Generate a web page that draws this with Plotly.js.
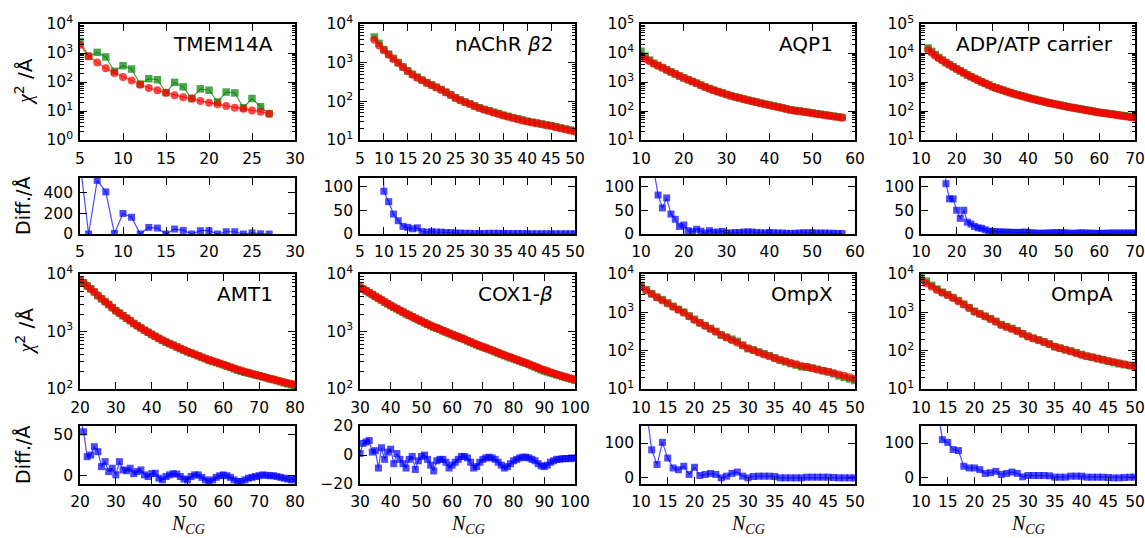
<!DOCTYPE html>
<html>
<head>
<meta charset="utf-8">
<script src="https://cdn.plot.ly/plotly-3.0.1.min.js"></script>
<style>html,body{margin:0;padding:0;background:#fff;}#chart{width:1145px;height:538px;}</style>
</head>
<body>
<div id="chart"></div>
<script>
// ---------------- DATA ----------------
const panelNames = ['TMEM14A', 'nAChR <i>β</i>2', 'AQP1', 'ADP/ATP carrier', 'AMT1', 'COX1-<i>β</i>', 'OmpX', 'OmpA'];

const tmemN = [5,6,7,8,9,10,11,12,13,14,15,16,17,18,19,20,21,22,23,24,25,26,27];
const tmemGreen = [2500,770,1050,730,233,365,280,85,130,120,43,97,68,27,58,52,20.5,45,42,13,27,14,8.1];
const tmemRed = [1940,770,475,300,205,150,112,81,62,52,43,35,30,27,22,19.4,17,15,13,12,10.5,9.5,8.1];
const tmemDiff = [700,0,522,410,5,200,163,0,64,58,0,48,35,0,32,32,0,22,22,0,10,2,0];

const nachrN = [8,9,10,11,12,13,14,15,16,17,18,19,20,21,22,23,24,25,26,27,28,29,30,31,32,33,34,35,36,37,38,39,40,41,42,43,44,45,46,47,48,49,50];
const nachrGreen = [4600,3170,2190,1668,1292,1008,776,614,501,423,355,304,267,232,202,173,148,124,109,96.5,86.5,76,68,62,57.5,52.5,48.5,44,41,38,35.5,33,30.5,29,27.5,26,24.5,23.5,22,20.5,19.3,18.1,17.1];
const nachrRed = [3900,2800,2100,1600,1250,980,760,600,490,410,350,300,262,228,198,170,145,122,107,95,85,75,67,61,56,51,47,43,40,37,34.5,32,30,28.5,27,25.5,24,23,21.5,20,18.8,17.6,16.6];
const nachrDiff = [700,370,90,68,42,28,16,14,11,13,5,4,5,4,4,3,3,2,2,1.5,1.5,1,1,1,1.5,1.5,1.5,1,1,1,1,1,0.5,0.5,0.5,0.5,0.5,0.5,0.5,0.5,0.5,0.5,0.5];

const aqpN = [10,11,12,13,14,15,16,17,18,19,20,21,22,23,24,25,26,27,28,29,30,31,32,33,34,35,36,37,38,39,40,41,42,43,44,45,46,47,48,49,50,51,52,53,54,55,56,57];
const aqpGreen = [11500,7800,5700,4435,3732,3155,2676,2242,1901,1616,1399,1207,1045,910,786,672,597,523.5,469,420.5,372,337,308,281,259,237.5,219,202,186.5,172,161,149.5,139,129,118.5,109,104.5,100,95.5,90.5,85.5,81,77,73.5,69.5,66.5,63,60];
const aqpRed = [7700,6300,5200,4300,3650,3100,2600,2200,1870,1600,1380,1200,1040,900,780,670,590,520,465,415,370,335,305,278,255,233,215,199,184,170,158,147,137,127,117,108,103,98,93,88,83,79,75,71.5,68,65,62,59];
const aqpDiff = [3800,1500,500,135,82,55,76,42,31,16,19,7,5,10,6,2,7,3.5,4,5.5,2,2,3,3,4,4.5,4,3,2.5,2,3,2.5,2,2,1.5,1,1.5,2,2.5,2.5,2.5,2,2,2,1.5,1.5,1,1];

const adpN = [12,13,14,15,16,17,18,19,20,21,22,23,24,25,26,27,28,29,30,31,32,33,34,35,36,37,38,39,40,41,42,43,44,45,46,47,48,49,50,51,52,53,54,55,56,57,58,59,60,61,62,63,64,65,66,67,68,69,70];
const adpGreen = [14900,11400,8800,7000,5750,4706,3974,3374,2850,2433,2100,1765,1531,1336,1163,1012,899,796,695,630,569.5,519,474,433.5,398.5,366,338.5,314,288.5,267.5,249,231.5,216.5,202,190,179.5,169,160,150.5,142,134.5,127.5,122,116.5,110,105,99.5,94.5,89,86.5,83.5,80,77,74,71,68,65.5,63,61];
const adpRed = [12900,10200,8100,6600,5500,4600,3900,3300,2800,2400,2050,1740,1510,1320,1150,1000,890,790,690,625,565,515,470,430,395,363,335,310,285,265,247,230,215,200,188,177,166,157,148,140,133,126,120,114,108,103,98,93,88,85,82,78,75,72,69,66,63.5,61,59];
const adpDiff = [2000,1200,700,400,250,106,74,74,50,33,50,25,21,16,13,12,9,6,5,5,4.5,4,4,3.5,3.5,3,3.5,4,3.5,2.5,2,1.5,1.5,2,2,2.5,3,3,2.5,2,1.5,1.5,2,2.5,2,2,1.5,1.5,1,1.5,1.5,2,2,2,2,2,2,2,2];

const amtN = [20,21,22,23,24,25,26,27,28,29,30,31,32,33,34,35,36,37,38,39,40,41,42,43,44,45,46,47,48,49,50,51,52,53,54,55,56,57,58,59,60,61,62,63,64,65,66,67,68,69,70,71,72,73,74,75,76,77,78,79,80];
const amtGreen = [7970,7053,6223,5525,4885,4229,3711,3317,2955,2609,2301,2097,1887,1706,1549,1382.5,1265,1157,1051,969,892.5,823,757,700,654,616,577.5,542,504,471,442,421,401,379,356,335,315,301,289,277,264,251,238,224,212,202,195,189,182,176,170,164,157.5,151,146,140,134,128,123,118,116];
const amtRed = [7900,7000,6200,5500,4850,4200,3700,3300,2950,2600,2300,2080,1880,1700,1540,1380,1260,1150,1050,970,890,820,760,705,655,615,575,540,505,475,447,422,400,378,358,340,322,306,291,277,263,251,240,229,219,209,200,192,184,177,170,163,157,151,146,141,136,131,127,123,120];
const amtDiff = [70,53,23,25,35,29,11,17,5,9,1,17,7,6,9,2.5,5,7,1,-1,2.5,3,-3,-5,-1,1,2.5,2,-1,-4,-5,-1,1,1,-2,-5,-7,-5,-2,0,1,0,-2,-5,-7,-7,-5,-3,-2,-1,0,1,0.5,0,0,-1,-2,-3,-4,-5,-4];

const coxN = [30,31,32,33,34,35,36,37,38,39,40,41,42,43,44,45,46,47,48,49,50,51,52,53,54,55,56,57,58,59,60,61,62,63,64,65,66,67,68,69,70,71,72,73,74,75,76,77,78,79,80,81,82,83,84,85,86,87,88,89,90,91,92,93,94,95,96,97,98,99,100];
const coxGreen = [5901,5488,5099,4740,4392,4083,3781,3525,3267,3042,2824,2634,2481,2317,2174,2031,1917,1809,1690,1596,1509,1420,1337,1263,1189,1146,1087,1032,980,926,883,840,802,764,729,688,655,616,587,560,537,513,488.5,468,444,422,401,381,364,349,335,321,307,293.5,280.5,267,254,241,228,215.5,206,198,191,184,177,171,164.5,158.5,152.5,148,142.5];
const coxRed = [5900,5480,5090,4730,4390,4080,3790,3520,3270,3040,2820,2640,2480,2320,2180,2040,1920,1810,1700,1600,1510,1420,1340,1270,1200,1150,1090,1035,985,935,890,845,805,765,730,690,660,625,595,565,540,515,490,470,447,427,408,390,372,355,339,324,309,295,282,269,257,245,234,223,214,205,196,188,180,174,167,161,155,150,145];
const coxDiff = [1,8,9,10,2,3,-9,5,-3,2,4,-6,1,-3,-6,-9,-3,-1,-10,-4,-1,0,-3,-7,-11,-4,-3,-3,-5,-9,-7,-5,-3,-1,-1,-2,-5,-9,-8,-5,-3,-2,-1.5,-2,-3,-5,-7,-9,-8,-6,-4,-3,-2,-1.5,-1.5,-2,-3,-4,-6,-7.5,-8,-7,-5,-4,-3,-3,-2.5,-2.5,-2.5,-2,-2.5];

const ompxN = [10,11,12,13,14,15,16,17,18,19,20,21,22,23,24,25,26,27,28,29,30,31,32,33,34,35,36,37,38,39,40,41,42,43,44,45,46,47,48,49,50];
const ompxGreen = [5000,3897,3080,2487,2152,1756,1427,1192,1012,798,659,535,453,381,318,255,223,199,175,139,113,104,93,83,74,65,56,51,46,42,38,37.5,35,32.5,30,28,25,22,20,18.3,16.6];
const ompxRed = [4600,3700,3000,2450,2050,1700,1400,1170,980,790,630,530,445,370,310,257,220,188,160,136,115,102,90,80,71,63,58,53,48,44,40,37.5,35,32.5,30,28,26,24,22,20.3,18.6];
const ompxDiff = [400,197,80,37,102,56,27,22,32,8,29,5,8,11,8,-2,3,11,15,3,-2,2,3,3,3,2,-2,-2,-2,-2,-2,0,0,0,0,0,-1,-2,-2,-2,-2];

const ompaN = [10,11,12,13,14,15,16,17,18,19,20,21,22,23,24,25,26,27,28,29,30,31,32,33,34,35,36,37,38,39,40,41,42,43,44,45,46,47,48,49,50];
const ompaGreen = [8500,6500,5050,4060,3360,2902,2431,2028,1632,1327,1067,922,791,683,582,478,426,380,331,276,238,213,191,171,150,127,116,105,98,89,80,72,67,62,58,53,49,45.5,43,41,38];
const ompaRed = [7000,5700,4650,3850,3250,2800,2350,1950,1600,1300,1040,900,780,670,565,470,415,365,320,275,233,208,186,166,146,127,116,105,95,86,77,72,67,62,58,54,51,47.5,44,41,38];
const ompaDiff = [1500,800,400,210,110,102,81,78,32,27,27,22,11,13,17,8,11,15,11,1,5,5,5,5,4,0,0,0,3,3,3,0,0,0,0,-1,-2,-2,-1,0,0];

const logTickVals = [1,10,100,1000,10000,100000];
const logTickText = ['10<sup>0</sup>','10<sup>1</sup>','10<sup>2</sup>','10<sup>3</sup>','10<sup>4</sup>','10<sup>5</sup>'];

// ---------------- LAYOUT / STYLE ----------------
const W = 1145, H = 538;
const cols = [[80,295],[360,575],[641,855],[921,1135]];
const rowsMain = [[24,140],[274,389]];
const rowsDiff = [[178,234],[426,484]];

const series = [
  {n: tmemN, g: tmemGreen, r: tmemRed, d: tmemDiff},
  {n: nachrN, g: nachrGreen, r: nachrRed, d: nachrDiff},
  {n: aqpN, g: aqpGreen, r: aqpRed, d: aqpDiff},
  {n: adpN, g: adpGreen, r: adpRed, d: adpDiff},
  {n: amtN, g: amtGreen, r: amtRed, d: amtDiff},
  {n: coxN, g: coxGreen, r: coxRed, d: coxDiff},
  {n: ompxN, g: ompxGreen, r: ompxRed, d: ompxDiff},
  {n: ompaN, g: ompaGreen, r: ompaRed, d: ompaDiff}
];
const cfg = [
  {xr:[5,30], xd:5, yr:[0,4], dr:[0,545], dd:200},
  {xr:[5,50], xd:5, yr:[1,4], dr:[0,118], dd:50},
  {xr:[10,60], xd:10, yr:[1,5], dr:[0,118], dd:50},
  {xr:[10,70], xd:10, yr:[1,5], dr:[0,118], dd:50},
  {xr:[20,80], xd:10, yr:[2,4], dr:[-10,60], dd:50},
  {xr:[30,100], xd:10, yr:[2,4], dr:[-20,20], dd:20},
  {xr:[10,50], xd:5, yr:[1,4], dr:[-20,150], dd:100},
  {xr:[10,50], xd:5, yr:[1,4], dr:[-20,150], dd:100}
];

const GREEN = 'rgba(0,128,0,0.7)';
const RED = 'rgba(255,0,0,0.72)';
const BLUE = 'rgba(0,0,255,0.7)';
const FONT = 'DejaVu Sans, sans-serif';

const common = {
  showline: true, linecolor: 'black', linewidth: 1.8, mirror: 'ticks',
  ticks: 'inside', ticklen: 7, tickwidth: 1, tickcolor: 'black',
  showgrid: false, zeroline: false, fixedrange: true,
  tickfont: {family: FONT, size: 15.5, color: 'black'}
};

const minorVals = [];
for (let e = 0; e < 5; e++) for (let k = 2; k <= 9; k++) minorVals.push(k * Math.pow(10, e));

const traces = [];
const layout = {
  width: W, height: H, margin: {l:0, r:0, t:0, b:0},
  paper_bgcolor: 'white', plot_bgcolor: 'white', showlegend: false,
  annotations: []
};

for (let i = 0; i < 8; i++) {
  const col = cols[i % 4];
  const row = Math.floor(i / 4);
  const mi = 2*i + 1, di = 2*i + 2;
  const s = series[i], c = cfg[i];
  const xm = 'x' + mi, ym = 'y' + mi, xdn = 'x' + di, ydn = 'y' + di;
  const xdom = [col[0]/W, col[1]/W];
  const rm = rowsMain[row], rd = rowsDiff[row];

  layout['xaxis' + mi] = Object.assign({}, common, {domain: xdom, anchor: ym, range: c.xr, dtick: c.xd, tick0: 0, ticklabelstandoff: 4});
  layout['yaxis' + mi] = Object.assign({}, common, {
    domain: [1 - rm[1]/H, 1 - rm[0]/H], anchor: xm, type: 'log', range: c.yr,
    tickmode: 'array', tickvals: logTickVals, ticktext: logTickText, ticklabelstandoff: 2,
    minor: {tickmode: 'array', tickvals: minorVals, ticks: 'inside', ticklen: 3.5, tickwidth: 1, tickcolor: 'black', showgrid: false}
  });
  layout['xaxis' + di] = Object.assign({}, common, {domain: xdom, anchor: ydn, range: c.xr, dtick: c.xd, tick0: 0, ticklabelstandoff: 3});
  layout['yaxis' + di] = Object.assign({}, common, {
    domain: [1 - rd[1]/H, 1 - rd[0]/H], anchor: xdn, range: c.dr, dtick: c.dd, tick0: 0, ticklabelstandoff: 2
  });

  traces.push({x: s.n, y: s.g, xaxis: xm, yaxis: ym, type: 'scatter', mode: 'lines+markers',
    line: {color: GREEN, width: 1.2}, marker: {symbol: 'square', size: 7.5, color: GREEN}});
  traces.push({x: s.n, y: s.r, xaxis: xm, yaxis: ym, type: 'scatter', mode: 'lines+markers',
    line: {color: RED, width: 1.2}, marker: {symbol: 'circle', size: 8, color: RED}});
  traces.push({x: s.n, y: s.d, xaxis: xdn, yaxis: ydn, type: 'scatter', mode: 'lines+markers',
    line: {color: BLUE, width: 1.2}, marker: {symbol: 'square', size: 7, color: BLUE}});

  layout.annotations.push({
    xref: 'paper', yref: 'paper', x: (col[1] - 20)/W, y: 1 - (rm[0] + 20)/H,
    xanchor: 'right', yanchor: 'middle', showarrow: false, text: panelNames[i],
    font: {family: FONT, size: 20, color: 'black'}
  });
  if (row === 1) {
    layout.annotations.push({
      xref: 'paper', yref: 'paper', x: (col[0] + col[1])/2/W, y: 1 - 524/H,
      xanchor: 'center', yanchor: 'middle', showarrow: false, borderpad: 0,
      text: '<i>N</i><sub><i>CG</i></sub>',
      font: {family: 'Liberation Serif, serif', size: 20, color: 'black'}
    });
  }
  if (i % 4 === 0) {
    layout.annotations.push({
      xref: 'paper', yref: 'paper', x: 24/W, y: 1 - (rm[0] + rm[1])/2/H,
      xanchor: 'center', yanchor: 'middle', showarrow: false, textangle: -90,
      text: '<span style="font-family:Liberation Serif"><i>χ</i></span><sup>2</sup> /Å',
      font: {family: FONT, size: 20, color: 'black'}
    });
    layout.annotations.push({
      xref: 'paper', yref: 'paper', x: 23/W, y: 1 - (rd[0] + rd[1])/2/H,
      xanchor: 'center', yanchor: 'middle', showarrow: false, textangle: -90,
      text: 'Diff./Å', font: {family: FONT, size: 19, color: 'black'}
    });
  }
}

Plotly.newPlot('chart', traces, layout, {staticPlot: true, displayModeBar: false});
</script>
</body>
</html>
